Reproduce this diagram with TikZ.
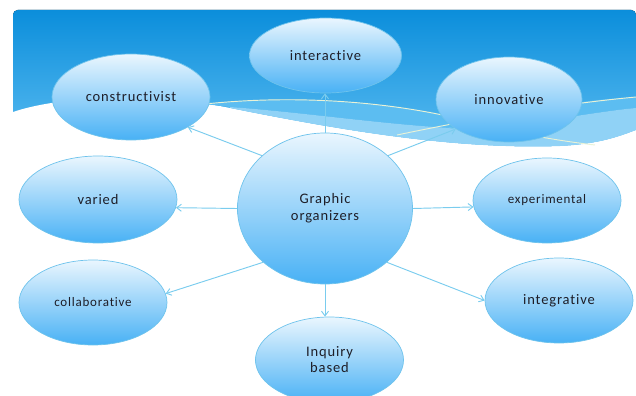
\documentclass[tikz,border=0pt]{standalone}
\usepackage{fontspec}
\setmainfont{Carlito}[LetterSpace=6, Ligatures=NoCommon]
\usepackage{tikz}
\usetikzlibrary{arrows.meta, shapes.geometric}

\definecolor{skytop}{HTML}{0B8EDB}
\definecolor{skybot}{HTML}{62C0F3}
\definecolor{wavemid}{HTML}{5CBDF1}
\definecolor{wavelight}{HTML}{90D2F6}
\definecolor{waveline}{HTML}{E9F2D6}
\definecolor{bubbletop}{HTML}{EAF6FE}
\definecolor{bubblebot}{HTML}{48B1F5}
\definecolor{bubbleedge}{HTML}{6EC3EC}
\definecolor{linkblue}{HTML}{7ACCEE}
\definecolor{labelink}{HTML}{1E1E28}

\tikzset{
  bubble/.style={ellipse, draw=bubbleedge, line width=0.6pt,
    top color=bubbletop, bottom color=bubblebot, inner sep=0pt,
    minimum width=4.44cm, minimum height=2.55cm, text=labelink, align=center,
    font=\fontsize{12.4}{14.5}\selectfont},
  smalltext/.style={font=\fontsize{11.1}{13}\selectfont},
  link/.style={draw=linkblue, line width=0.8pt, -{Straight Barb[length=4pt,width=6pt]}}
}

\begin{document}
\begin{tikzpicture}[x=0.03cm, y=-0.03cm]
    \useasboundingbox (0,0) rectangle (636,396);

    % Blue panel, white wave cut out of its lower edge
    \fill[top color=skytop, bottom color=skybot, rounded corners=4pt] (13,10) rectangle (636,160);
    \fill[white] (13,112) .. controls (60,96) and (150,92) .. (230,108)
        .. controls (330,128) and (450,150) .. (560,146)
        .. controls (600,144) and (620,136) .. (636,130) -- (640,165) -- (8,165) -- cycle;

    % Bands of the wave
    \fill[wavemid] (205,104) .. controls (300,94) and (400,102) .. (480,124)
        -- (515,113) .. controls (560,104) and (600,99) .. (636,97) -- (636,108)
        .. controls (590,112) and (520,128) .. (450,128)
        .. controls (380,124) and (300,112) .. (230,107) -- cycle;
    \fill[wavelight] (230,107) .. controls (300,112) and (380,124) .. (450,128)
        .. controls (520,128) and (590,112) .. (636,108) -- (636,130)
        .. controls (620,136) and (600,144) .. (560,146)
        .. controls (450,150) and (330,128) .. (230,108) -- cycle;
    \draw[waveline, line width=0.8pt] (205,104) .. controls (300,94) and (400,102) .. (480,124)
        .. controls (520,134) and (560,141) .. (595,145);
    \draw[waveline, line width=0.8pt] (397,135) .. controls (450,124) and (540,106) .. (636,97);

    % Ideas around the centre
    \node[bubble, minimum width=4.56cm, minimum height=2.25cm] (inter) at (325.5,55.5) {interactive};
    \node[bubble, minimum width=4.74cm, minimum height=2.58cm] (cons) at (131,97) {constructivist};
    \node[bubble, minimum width=4.38cm] (innov) at (509,99.5) {innovative};
    \node[bubble, minimum width=4.74cm, minimum height=2.61cm] (varied) at (98,199.5) {varied};
    \node[bubble, smalltext] (exper) at (547,200.5) {experimental};
    \node[bubble, smalltext] (collab) at (93,302.5) {collaborative};
    \node[bubble] (integ) at (559,300.5) {integrative};
    \node[bubble, minimum height=2.58cm, font=\fontsize{12.4}{13.7}\selectfont] (inq) at (329.5,360) {Inquiry\\based};

    % Centre
    \node[bubble, minimum width=5.25cm, minimum height=4.53cm] (go) at (325,208.5) {Graphic\\organizers};

    % Links out of the centre
    \draw[link] (go.north) -- (go.north |- inter.south);
    \draw[link] (go.140) -- (cons.-28);
    \draw[link] (go.40) -- (innov.-151);
    \draw[link] (go.west) -- (varied.-6);
    \draw[link] (go.east) -- (exper.185);
    \draw[link] (go.-139) -- (collab.7);
    \draw[link] (go.-41) -- (integ.west);
    \draw[link] (go.south) -- (go.south |- inq.north);
\end{tikzpicture}
\end{document}
